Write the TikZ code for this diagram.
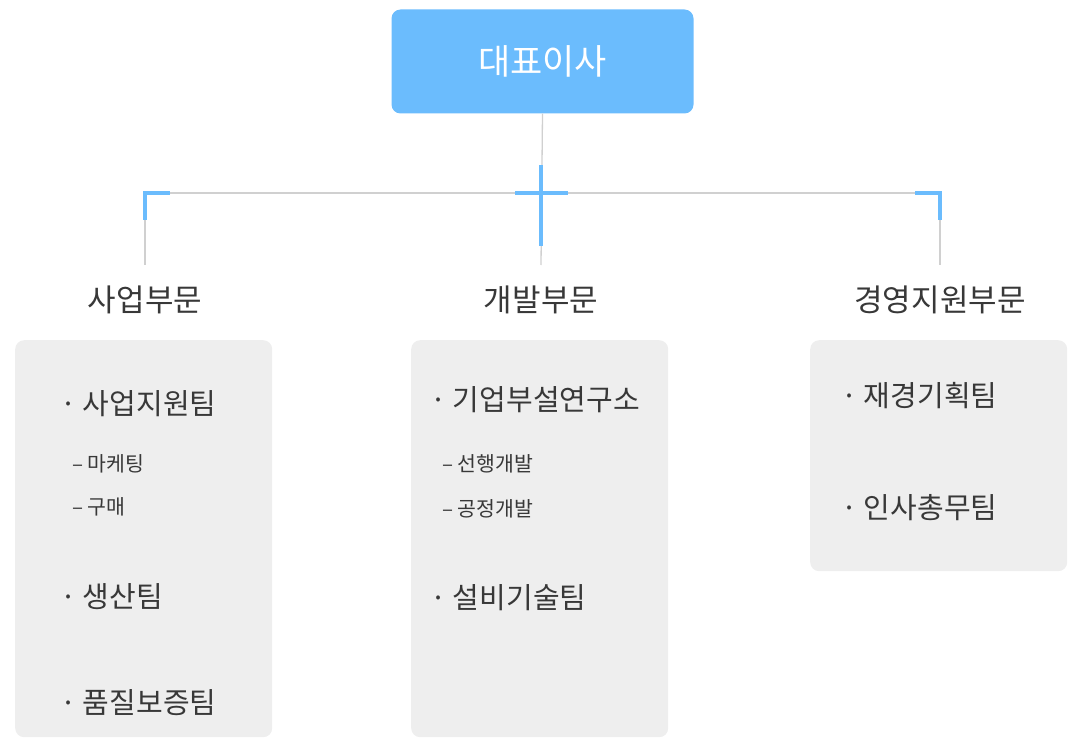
\documentclass[tikz,border=0pt]{standalone}
\usepackage{fontspec}
\setmainfont{Noto Sans CJK KR}
\definecolor{ceoblue}{HTML}{6BBCFD}
\definecolor{linegray}{HTML}{D0D0D0}
\definecolor{boxgray}{HTML}{EEEEEE}
\definecolor{txt}{HTML}{383838}
\begin{document}
\begin{tikzpicture}[x=1pt,y=-1pt,
  ceobox/.style={fill=ceoblue, rounded corners=9pt, minimum width=302pt, minimum height=104pt, inner sep=0pt, text=white, font=\fontsize{35}{40}\selectfont},
  panel/.style={fill=boxgray, rounded corners=9pt, minimum width=257pt, inner sep=0pt, anchor=north west},
  divlabel/.style={text=txt, font=\fontsize{31}{35}\selectfont, inner sep=0pt},
  item/.style={text=txt, font=\fontsize{29}{33}\selectfont, inner sep=0pt, anchor=west},
  subitem/.style={text=txt, font=\fontsize{20.5}{24}\selectfont, inner sep=0pt, anchor=west},
  conn/.style={draw=linegray, line width=1.3pt},
  bluemark/.style={draw=ceoblue, line width=3.2pt}
]
\useasboundingbox (0,0) rectangle (1081,749);
% CEO
\node[ceobox] (ceo) at (542.5,61.5) {대표이사};
% coordinates
\coordinate (hub) at (541,193);
\coordinate (hl) at (145,193);
\coordinate (hr) at (940,193);
\coordinate (dl) at (145,265);
\coordinate (dm) at (541,265);
\coordinate (dr) at (940,265);
% connectors
\draw[conn] (ceo.south) -- (dm);
\draw[conn] (hl) -- (hr);
\draw[conn] (hl) -- (dl);
\draw[conn] (hr) -- (dr);
% blue marks
\draw[bluemark] ([yshift=28pt]hub) -- ([yshift=-53pt]hub);
\draw[bluemark] ([xshift=-26pt]hub) -- ([xshift=27pt]hub);
\draw[bluemark] ([xshift=25pt]hl) -- (hl) -- ([yshift=-27pt]hl);
\draw[bluemark] ([xshift=-25pt]hr) -- (hr) -- ([yshift=-27pt]hr);
% division labels
\node[divlabel] (d1) at (145,300) {사업부문};
\node[divlabel] (d2) at (541,300) {개발부문};
\node[divlabel] (d3) at (940,300) {경영지원부문};
% panels
\node[panel, minimum height=397pt] (p1) at (15,340) {};
\node[panel, minimum height=397pt] (p2) at (411,340) {};
\node[panel, minimum height=231pt] (p3) at (810,340) {};
% left panel
\node[item] (a1) at (60,404) {· 사업지원팀};
\node[subitem] (a2) at (72,464) {– 마케팅};
\node[subitem] (a3) at (72,507) {– 구매};
\node[item] (a4) at (60,597) {· 생산팀};
\node[item] (a5) at (60,703) {· 품질보증팀};
% middle panel
\node[item] (b1) at (430,400) {· 기업부설연구소};
\node[subitem] (b2) at (442,464) {– 선행개발};
\node[subitem] (b3) at (442,509) {– 공정개발};
\node[item] (b4) at (430,598) {· 설비기술팀};
% right panel
\node[item] (c1) at (841,396) {· 재경기획팀};
\node[item] (c2) at (841,508) {· 인사총무팀};
\end{tikzpicture}
\end{document}
